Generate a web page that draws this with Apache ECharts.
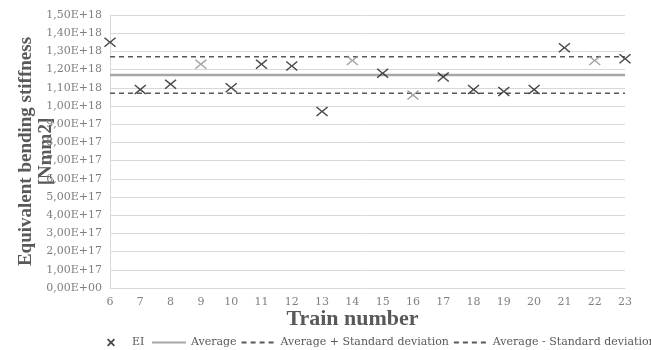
<!DOCTYPE html>
<html><head><meta charset="utf-8">
<script src="https://cdn.jsdelivr.net/npm/echarts@6/dist/echarts.min.js"></script>
<style>html,body{margin:0;padding:0;background:#fff}#c{width:651px;height:350px}</style>
</head><body><div id="c"></div>
<script>
const trains = [6,7,8,9,10,11,12,13,14,15,16,17,18,19,20,21,22,23];
const eiValues = [1.35e18,1.09e18,1.12e18,1.23e18,1.10e18,1.23e18,1.22e18,0.97e18,1.25e18,1.18e18,1.06e18,1.16e18,1.09e18,1.08e18,1.09e18,1.32e18,1.25e18,1.26e18];
const grayTrains = [9,14,16,22];
const average = 1.17e18;
const avgPlusSd = 1.27e18;
const avgMinusSd = 1.07e18;
const yTickLabels = ['0,00E+00','1,00E+17','2,00E+17','3,00E+17','4,00E+17','5,00E+17','6,00E+17','7,00E+17','8,00E+17','9,00E+17','1,00E+18','1,10E+18','1,20E+18','1,30E+18','1,40E+18','1,50E+18'];

const font = 'DejaVu Serif';
const xPath = 'path://M0,1L1,0L6,4.2L11,0L12,1L7.2,5L12,9L11,10L6,5.8L1,10L0,9L4.8,5Z';
const xPathBold = 'path://M0,1.6L1.6,0L5,3.4L8.4,0L10,1.6L6.6,5L10,8.4L8.4,10L5,6.6L1.6,10L0,8.4L3.4,5Z';
const xMin = trains[0], xMax = trains[trains.length-1];

const chart = echarts.init(document.getElementById('c'));
chart.setOption({
  animation:false,
  grid:{left:110,right:26,top:15,bottom:62,outerBoundsMode:'none',containLabel:false},
  legend:[{
    data:[{name:'EI',icon:xPathBold}],
    left:102, top:332, itemWidth:8, itemHeight:8, itemGap:8,
    textStyle:{fontFamily:font,fontSize:11,color:'#595959',padding:[0,0,0,12]}
  },{
    data:['Average','Average + Standard deviation','Average - Standard deviation'],
    left:146, top:332, width:640, itemWidth:34, itemHeight:10, itemGap:4,
    itemStyle:{opacity:0},
    textStyle:{fontFamily:font,fontSize:11,color:'#595959'}
  }],
  xAxis:{
    type:'value', min:xMin, max:xMax, interval:1,
    name:'Train number', nameLocation:'middle', nameGap:20, nameMoveOverlap:false,
    nameTextStyle:{fontFamily:'Liberation Serif',fontWeight:'bold',fontSize:22,color:'#595959',padding:[0,30,0,0]},
    axisLine:{lineStyle:{color:'#d9d9d9'}},
    axisTick:{show:false},
    splitLine:{show:false},
    axisLabel:{fontFamily:font,fontSize:11,color:'#7f7f7f',margin:9}
  },
  yAxis:{
    type:'value', min:0, max:1.5e18, interval:1e17,
    name:'Equivalent bending stiffness\n[Nmm2]', nameLocation:'middle', nameGap:54, nameRotate:90, nameMoveOverlap:false,
    nameTextStyle:{fontFamily:'Liberation Serif',fontWeight:'bold',fontSize:19,color:'#595959',lineHeight:20},
    axisLine:{show:true,lineStyle:{color:'#d9d9d9'}},
    axisTick:{show:false},
    splitLine:{lineStyle:{color:'#d9d9d9'}},
    axisLabel:{fontFamily:font,fontSize:11,color:'#7f7f7f',margin:8,
      formatter:(v)=>yTickLabels[Math.round(v/1e17)]}
  },
  series:[
    {name:'Average',type:'line',symbol:'none',data:[[xMin,average],[xMax,average]],
     lineStyle:{color:'#a6a6a6',width:2.5},itemStyle:{color:'#a6a6a6'},z:2},
    {name:'Average + Standard deviation',type:'line',symbol:'none',data:[[xMin,avgPlusSd],[xMax,avgPlusSd]],
     lineStyle:{color:'#595959',width:1.5,type:[5,4]},itemStyle:{color:'#595959'},z:2},
    {name:'Average - Standard deviation',type:'line',symbol:'none',data:[[xMin,avgMinusSd],[xMax,avgMinusSd]],
     lineStyle:{color:'#595959',width:1.5,type:[5,4]},itemStyle:{color:'#595959'},z:2},
    {name:'EI',type:'scatter',symbol:xPath,symbolSize:[12,10],
     itemStyle:{color:'#1a1a1a'},z:5,
     data:trains.map((t,i)=>({value:[t,eiValues[i]],itemStyle:{color:grayTrains.includes(t)?'#8c8c8c':'#1a1a1a'}}))}
  ]
});
</script></body></html>
